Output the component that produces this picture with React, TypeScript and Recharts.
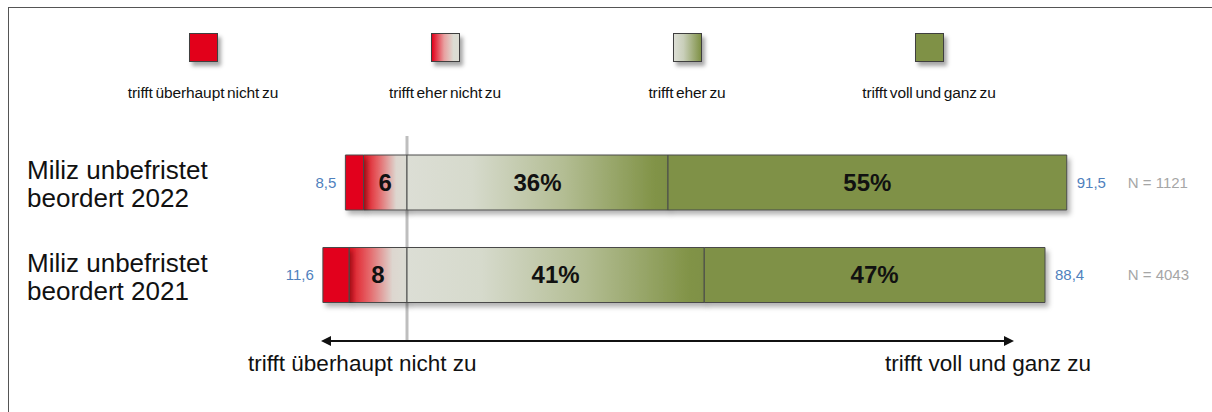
import React from 'react';
import { BarChart, Bar, XAxis, YAxis, CartesianGrid, ReferenceLine, LabelList } from 'recharts';

// survey rows
const groups = ['Miliz unbefristet|beordert 2022', 'Miliz unbefristet|beordert 2021'];
const ueberhauptNicht = [2.5, 3.6];
const eherNicht = [6, 8];
const eherZu = [36, 41];
const vollUndGanz = [55, 47];
const leftTotals = ['8,5', '11,6'];
const rightTotals = ['91,5', '88,4'];
const sampleSizes = ['N = 1121', 'N = 4043'];
const legendLabels = [
  'trifft überhaupt nicht zu',
  'trifft eher nicht zu',
  'trifft eher zu',
  'trifft voll und ganz zu',
];
const scaleEnds = ['trifft überhaupt nicht zu', 'trifft voll und ganz zu'];

const data = groups.map((group, i) => ({
  group,
  n: sampleSizes[i],
  eherNicht: -eherNicht[i],
  ueberhaupt: -ueberhauptNicht[i],
  eherZu: eherZu[i],
  voll: vollUndGanz[i],
  eherNichtLabel: String(eherNicht[i]),
  eherZuLabel: `${eherZu[i]}%`,
  vollLabel: `${vollUndGanz[i]}%`,
  leftTotal: leftTotals[i],
  rightTotal: rightTotals[i],
}));

const FONT = '"Liberation Sans", Arial, sans-serif';
const RED = '#E2001A';
const OLIVE = '#7F9146';
const BORDER = '#4a4a4a';
const ZERO = '#BEBEBE';

const legendSwatches = [
  RED,
  `linear-gradient(to right, ${RED} 0%, #E8A0A0 45%, #DCDCD3 80%)`,
  `linear-gradient(to right, #DCDED5 0%, #C9CFBA 35%, ${OLIVE} 100%)`,
  OLIVE,
];

const GroupTick = (props: any) => {
  const [a, b] = String(props.payload.value).split('|');
  return (
    <g>
      <text x={27} y={props.y - 3} fontFamily={FONT} fontSize={26} fill="#111">{a}</text>
      <text x={27} y={props.y + 25} fontFamily={FONT} fontSize={26} fill="#111">{b}</text>
    </g>
  );
};

const box = (p: any) => {
  const vb = p.viewBox && p.viewBox.width !== undefined ? p.viewBox : p;
  const x0 = Math.min(vb.x, vb.x + vb.width);
  const x1 = Math.max(vb.x, vb.x + vb.width);
  return { x0, x1, cy: vb.y + vb.height / 2 };
};

const CenterLabel = (p: any) => {
  const { x0, x1, cy } = box(p);
  return (
    <text x={(x0 + x1) / 2} y={cy} dy={8} textAnchor="middle" fontFamily={FONT}
      fontWeight="bold" fontSize={24} fill="#111">
      {p.value}
    </text>
  );
};

const LeftTotal = (p: any) => {
  const { x0, cy } = box(p);
  return (
    <text x={x0 - 9} y={cy} dy={5} textAnchor="end" fontFamily={FONT} fontSize={15} fill="#4F81BD">
      {p.value}
    </text>
  );
};

const RightTotal = (p: any) => {
  const { x1, cy } = box(p);
  return (
    <text x={x1 + 10} y={cy} dy={5} textAnchor="start" fontFamily={FONT} fontSize={15} fill="#4F81BD">
      {p.value}
    </text>
  );
};

// part of the zero line that runs below the plot, down to the scale arrow
const ZeroTail = (p: any) => {
  const bottom = Math.max(p.y1, p.y2);
  return <line x1={p.x1} y1={bottom} x2={p.x1} y2={bottom + 20} stroke={ZERO} strokeWidth={3} />;
};

const zeroX = (props: any) => {
  const s = props?.xAxis?.scale;
  if (typeof s === 'function') return [s(0)];
  if (s && typeof s.map === 'function') return [s.map(0)];
  return [];
};

export default function App() {
  return (
    <div style={{ position: 'absolute', left: 0, top: 0, width: 1212, height: 412, background: '#fff', overflow: 'hidden' }}>
      {/* frame */}
      <div style={{ position: 'absolute', left: 8, top: 7, width: 1220, height: 420, borderTop: '1.5px solid #555', borderLeft: '1.5px solid #555' }} />

      {/* legend */}
      {legendLabels.map((label, i) => (
        <div key={label} style={{ position: 'absolute', left: 82 + i * 242, top: 33, width: 242, textAlign: 'center' }}>
          <div style={{
            width: 27, height: 27, margin: '0 auto', background: legendSwatches[i],
            border: '1.5px solid #3f3f3f', boxShadow: '3px 4px 4px rgba(0,0,0,0.35)',
          }} />
          <div style={{ marginTop: 23, fontFamily: FONT, fontSize: 15.5, lineHeight: '16px', color: '#111', wordSpacing: -1.5, letterSpacing: -0.1 }}>{label}</div>
        </div>
      ))}

      <BarChart
        width={1212}
        height={412}
        data={data}
        layout="vertical"
        stackOffset="sign"
        barSize={55}
        margin={{ top: 136, right: 0, bottom: 91, left: 0 }}
        style={{ position: 'absolute', left: 0, top: 0 }}
      >
        <defs>
          <linearGradient id="gEherNicht" x1="0" y1="0" x2="1" y2="0">
            <stop offset="0%" stopColor="#E0101E" />
            <stop offset="35%" stopColor="#E5676A" />
            <stop offset="75%" stopColor="#DDD6CF" />
            <stop offset="100%" stopColor="#DCDDD4" />
          </linearGradient>
          <linearGradient id="gEherZu" x1="0" y1="0" x2="1" y2="0">
            <stop offset="0%" stopColor="#DCDED5" />
            <stop offset="25%" stopColor="#D6DACC" />
            <stop offset="60%" stopColor="#B3BD93" />
            <stop offset="95%" stopColor="#819347" />
            <stop offset="100%" stopColor={OLIVE} />
          </linearGradient>
          <filter id="barShadow" filterUnits="userSpaceOnUse" x="0" y="0" width="1212" height="412">
            <feDropShadow dx="3" dy="4" stdDeviation="2.5" floodColor="#000" floodOpacity="0.3" />
          </filter>
        </defs>
        {/* zero line behind the bars */}
        <CartesianGrid horizontal={false} stroke={ZERO} strokeWidth={3} verticalCoordinatesGenerator={zeroX} />
        <XAxis type="number" domain={[-20, 99]} hide />
        <YAxis yAxisId={0} type="category" dataKey="group" width={262} axisLine={false} tickLine={false} tick={<GroupTick />} />
        <YAxis yAxisId="n" orientation="right" type="category" dataKey="n" width={87.25}
          axisLine={false} tickLine={false} tickSize={0} tickMargin={3}
          tick={{ fill: '#A6A6A6', fontSize: 15, fontFamily: FONT }} />
        <ReferenceLine x={0} yAxisId={0} ifOverflow="visible" shape={<ZeroTail />} />
        <Bar dataKey="eherNicht" stackId="s" fill="url(#gEherNicht)" stroke={BORDER} strokeWidth={1} filter="url(#barShadow)" isAnimationActive={false}>
          <LabelList dataKey="eherNichtLabel" content={<CenterLabel />} />
        </Bar>
        <Bar dataKey="ueberhaupt" stackId="s" fill={RED} stroke={BORDER} strokeWidth={1} filter="url(#barShadow)" isAnimationActive={false}>
          <LabelList dataKey="leftTotal" content={<LeftTotal />} />
        </Bar>
        <Bar dataKey="eherZu" stackId="s" fill="url(#gEherZu)" stroke={BORDER} strokeWidth={1} filter="url(#barShadow)" isAnimationActive={false}>
          <LabelList dataKey="eherZuLabel" content={<CenterLabel />} />
        </Bar>
        <Bar dataKey="voll" stackId="s" fill={OLIVE} stroke={BORDER} strokeWidth={1} filter="url(#barShadow)" isAnimationActive={false}>
          <LabelList dataKey="vollLabel" content={<CenterLabel />} />
          <LabelList dataKey="rightTotal" content={<RightTotal />} />
        </Bar>
      </BarChart>

      {/* scale arrow */}
      <svg width={1212} height={412} style={{ position: 'absolute', left: 0, top: 0, pointerEvents: 'none' }}>
        <line x1={330} y1={341} x2={1005} y2={341} stroke="#111" strokeWidth={2} />
        <polygon points="321,341 331,336 331,346" fill="#111" />
        <polygon points="1014,341 1004,336 1004,346" fill="#111" />
        <text x={248} y={371} fontFamily={FONT} fontSize={22.5} fill="#111">{scaleEnds[0]}</text>
        <text x={1091} y={371} textAnchor="end" fontFamily={FONT} fontSize={22.5} fill="#111">{scaleEnds[1]}</text>
      </svg>
    </div>
  );
}
